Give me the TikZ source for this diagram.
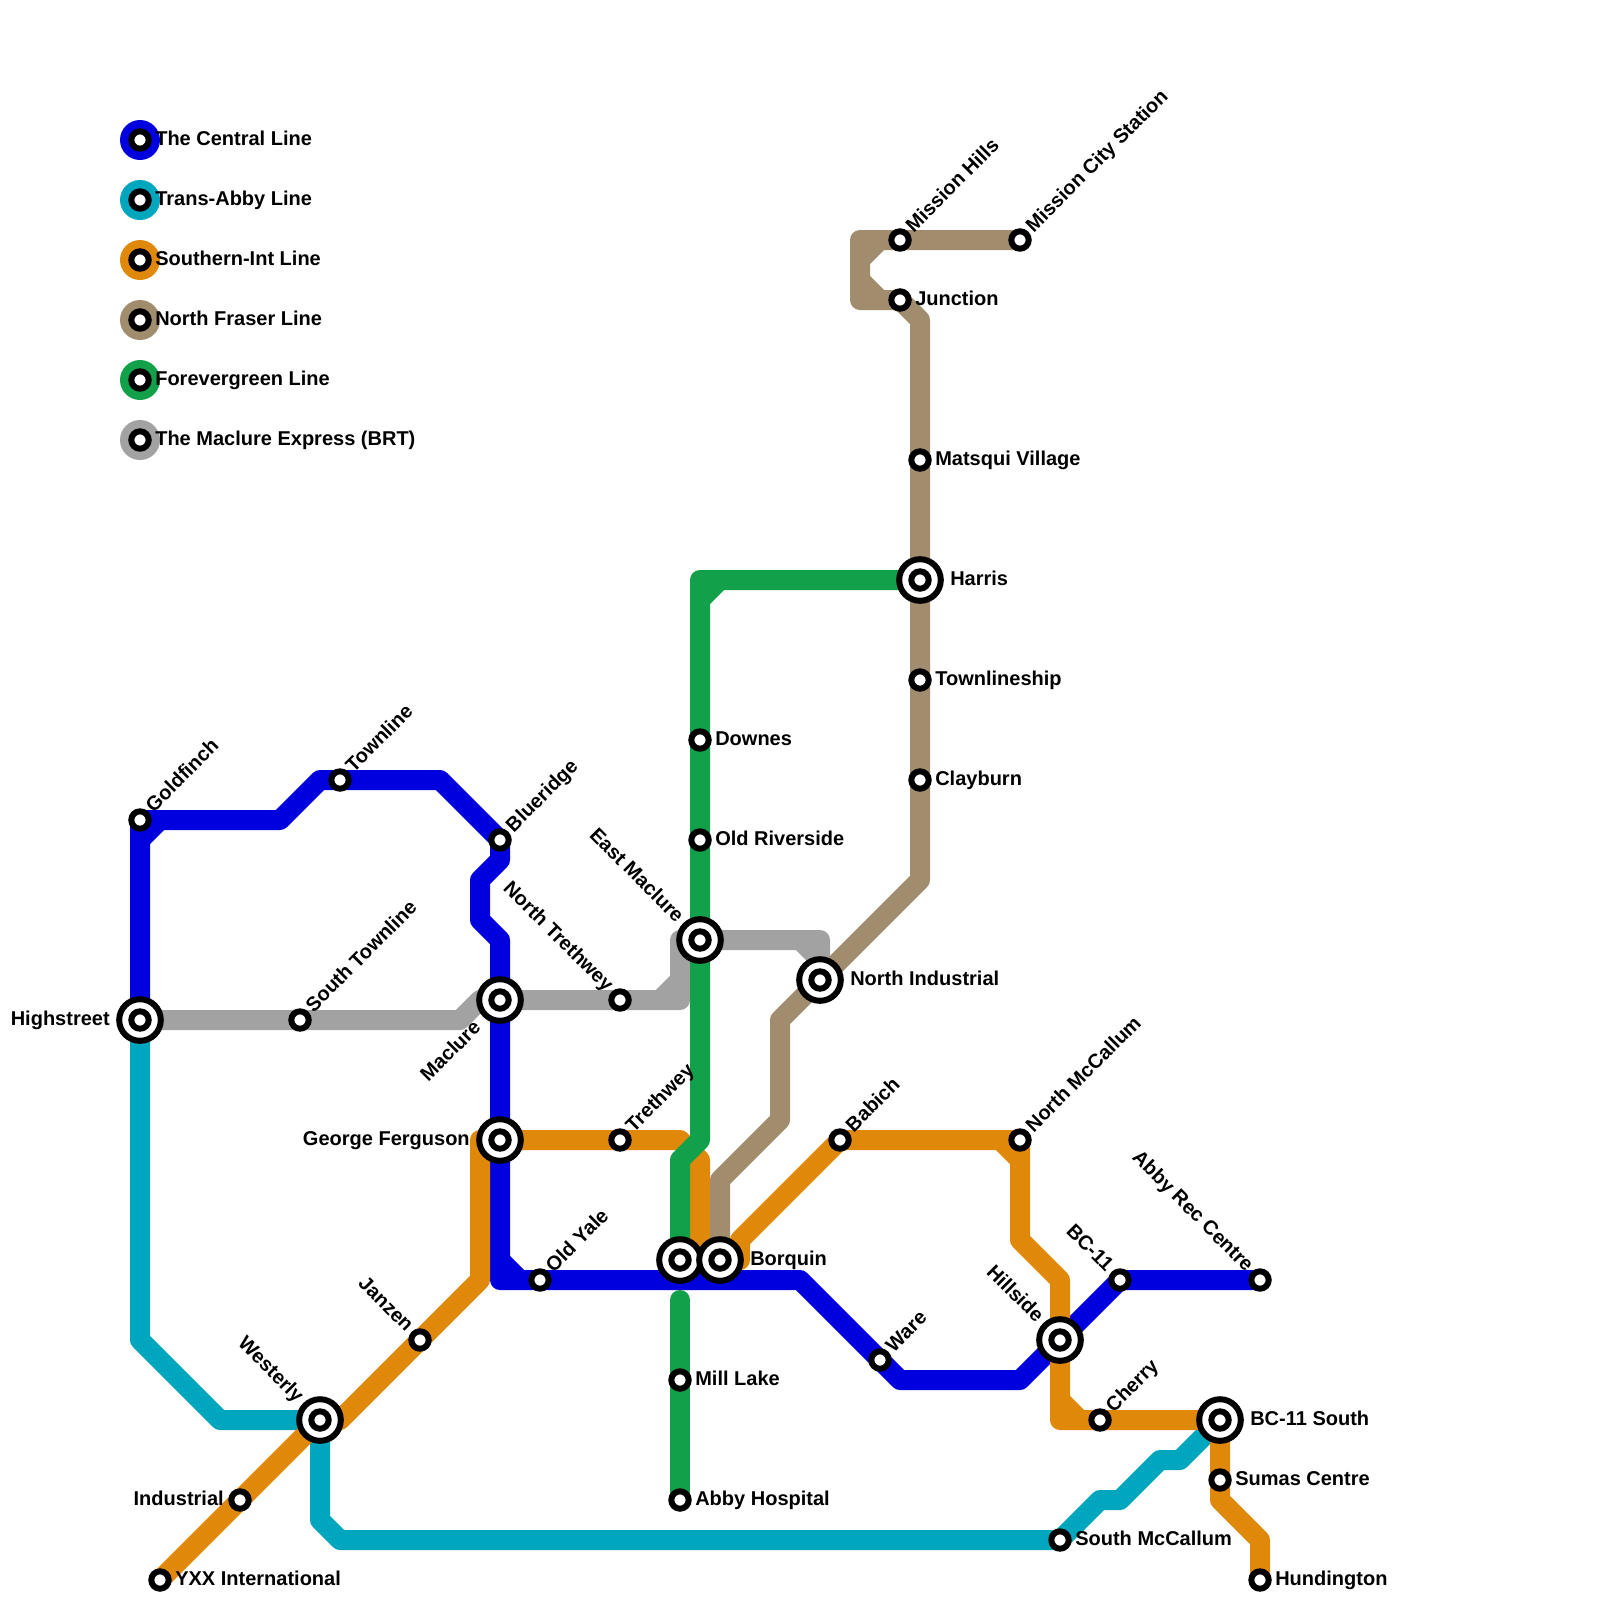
\documentclass[tikz,border=0pt]{standalone}
\usepackage{fontspec}
\setmainfont{Liberation Sans}
\definecolor{CentralBlue}{HTML}{0000DE}
\definecolor{AbbyTeal}{HTML}{00A5BE}
\definecolor{SouthernOrange}{HTML}{E0880A}
\definecolor{FraserBrown}{HTML}{A18C6E}
\definecolor{EvergreenGreen}{HTML}{12A04A}
\definecolor{MaclureGrey}{HTML}{A2A2A2}
\pgfdeclarelayer{lines}
\pgfsetlayers{lines,main}
\tikzset{
  metro/.style={line width=0.5cm,line join=round,line cap=round},
  stopdot/.style={circle,draw=black,fill=white,line width=0.15cm,minimum size=0.435cm,inner sep=0pt,outer sep=0pt},
  hubdot/.style={circle,draw=black,fill=white,line width=0.15cm,minimum size=1.04cm,inner sep=0pt,outer sep=0pt,
    path picture={\draw[black,line width=0.15cm] (path picture bounding box.center) circle (0.2175cm);}},
  keydisc/.style={circle,fill=#1,minimum size=1cm,inner sep=0pt,outer sep=0pt},
  stopname/.style={inner sep=0pt,font=\bfseries\fontsize{14.23}{16}\selectfont},
  nameE/.style={stopname,shift={(0.375cm,-0.14cm)},anchor=base west},
  nameW/.style={stopname,shift={(-0.4cm,-0.14cm)},anchor=base east},
  nameNE/.style={stopname,shift={(0.34cm,0.17cm)},rotate=45,anchor=base west},
  nameNW/.style={stopname,shift={(-0.36cm,0.18cm)},rotate=-45,anchor=base east},
  hubE/.style={stopname,shift={(0.75cm,-0.14cm)},anchor=base west},
  hubW/.style={stopname,shift={(-0.75cm,-0.14cm)},anchor=base east},
  hubNW/.style={stopname,shift={(-0.6cm,0.41cm)},rotate=-45,anchor=base east},
  hubSW/.style={stopname,shift={(-0.45cm,-0.72cm)},rotate=45,anchor=base east},
}
\begin{document}
\begin{tikzpicture}[x=0.5cm,y=-0.5cm]
\path[use as bounding box] (0,0) rectangle (80,80);
% key
\node[keydisc=CentralBlue] (keyCentral) at (7,7) {};
\node[keydisc=AbbyTeal] (keyAbby) at (7,10) {};
\node[keydisc=SouthernOrange] (keySouthern) at (7,13) {};
\node[keydisc=FraserBrown] (keyFraser) at (7,16) {};
\node[keydisc=EvergreenGreen] (keyGreen) at (7,19) {};
\node[keydisc=MaclureGrey] (keyGrey) at (7,22) {};
\node[stopdot] (dotCentral) at (keyCentral) {};
\node[stopdot] (dotAbby) at (keyAbby) {};
\node[stopdot] (dotSouthern) at (keySouthern) {};
\node[stopdot] (dotFraser) at (keyFraser) {};
\node[stopdot] (dotGreen) at (keyGreen) {};
\node[stopdot] (dotGrey) at (keyGrey) {};
\node[nameE] (txtCentral) at (keyCentral) {The Central Line};
\node[nameE] (txtAbby) at (keyAbby) {Trans-Abby Line};
\node[nameE] (txtSouthern) at (keySouthern) {Southern-Int Line};
\node[nameE] (txtFraser) at (keyFraser) {North Fraser Line};
\node[nameE] (txtGreen) at (keyGreen) {Forevergreen Line};
\node[nameE] (txtGrey) at (keyGrey) {The Maclure Express (BRT)};
% stops
\node[stopdot] (Goldfinch) at (7,41) {};
\node[stopdot] (Townline) at (17,39) {};
\node[stopdot] (Blueridge) at (25,42) {};
\node[stopdot] (SouthTownline) at (15,51) {};
\node[stopdot] (NorthTrethwey) at (31,50) {};
\node[stopdot] (Trethwey) at (31,57) {};
\node[stopdot] (OldYale) at (27,64) {};
\node[stopdot] (Janzen) at (21,67) {};
\node[stopdot] (Industrial) at (12,75) {};
\node[stopdot] (YXX) at (8,79) {};
\node[stopdot] (Downes) at (35,37) {};
\node[stopdot] (OldRiverside) at (35,42) {};
\node[stopdot] (MillLake) at (34,69) {};
\node[stopdot] (AbbyHospital) at (34,75) {};
\node[stopdot] (MissionHills) at (45,12) {};
\node[stopdot] (MissionCity) at (51,12) {};
\node[stopdot] (Junction) at (45,15) {};
\node[stopdot] (Matsqui) at (46,23) {};
\node[stopdot] (Townlineship) at (46,34) {};
\node[stopdot] (Clayburn) at (46,39) {};
\node[stopdot] (Babich) at (42,57) {};
\node[stopdot] (NorthMcCallum) at (51,57) {};
\node[stopdot] (Ware) at (44,68) {};
\node[stopdot] (BCEleven) at (56,64) {};
\node[stopdot] (AbbyRec) at (63,64) {};
\node[stopdot] (Cherry) at (55,71) {};
\node[stopdot] (Sumas) at (61,74) {};
\node[stopdot] (Hundington) at (63,79) {};
\node[stopdot] (SouthMcCallum) at (53,77) {};
% interchanges
\node[hubdot] (Highstreet) at (7,51) {};
\node[hubdot] (Maclure) at (25,50) {};
\node[hubdot] (GeorgeFerguson) at (25,57) {};
\node[hubdot] (Westerly) at (16,71) {};
\node[hubdot] (EastMaclure) at (35,47) {};
\node[hubdot] (NorthIndustrial) at (41,49) {};
\node[hubdot] (Harris) at (46,29) {};
\node[hubdot] (BorquinWest) at (34,63) {};
\node[hubdot] (Borquin) at (36,63) {};
\node[hubdot] (Hillside) at (53,67) {};
\node[hubdot] (BCSouth) at (61,71) {};
% names
\node[nameNE] (txtGoldfinch) at (Goldfinch) {Goldfinch};
\node[nameNE] (txtTownline) at (Townline) {Townline};
\node[nameNE] (txtBlueridge) at (Blueridge) {Blueridge};
\node[nameNE] (txtSouthTownline) at (SouthTownline) {South Townline};
\node[nameNE] (txtTrethwey) at (Trethwey) {Trethwey};
\node[nameNE] (txtOldYale) at (OldYale) {Old Yale};
\node[nameNE] (txtMissionHills) at (MissionHills) {Mission Hills};
\node[nameNE] (txtMissionCity) at (MissionCity) {Mission City Station};
\node[nameNE] (txtBabich) at (Babich) {Babich};
\node[nameNE] (txtNorthMcCallum) at (NorthMcCallum) {North McCallum};
\node[nameNE] (txtWare) at (Ware) {Ware};
\node[nameNE] (txtCherry) at (Cherry) {Cherry};
\node[nameNW] (txtNorthTrethwey) at (NorthTrethwey) {North Trethwey};
\node[nameNW] (txtJanzen) at (Janzen) {Janzen};
\node[nameNW] (txtBCEleven) at (BCEleven) {BC-11};
\node[nameNW] (txtAbbyRec) at (AbbyRec) {Abby Rec Centre};
\node[nameW] (txtIndustrial) at (Industrial) {Industrial};
\node[nameE] (txtYXX) at (YXX) {YXX International};
\node[nameE] (txtDownes) at (Downes) {Downes};
\node[nameE] (txtOldRiverside) at (OldRiverside) {Old Riverside};
\node[nameE] (txtMillLake) at (MillLake) {Mill Lake};
\node[nameE] (txtAbbyHospital) at (AbbyHospital) {Abby Hospital};
\node[nameE] (txtJunction) at (Junction) {Junction};
\node[nameE] (txtMatsqui) at (Matsqui) {Matsqui Village};
\node[nameE] (txtTownlineship) at (Townlineship) {Townlineship};
\node[nameE] (txtClayburn) at (Clayburn) {Clayburn};
\node[nameE] (txtSumas) at (Sumas) {Sumas Centre};
\node[nameE] (txtHundington) at (Hundington) {Hundington};
\node[nameE] (txtSouthMcCallum) at (SouthMcCallum) {South McCallum};
\node[hubW] (txtHighstreet) at (Highstreet) {Highstreet};
\node[hubW] (txtGeorgeFerguson) at (GeorgeFerguson) {George Ferguson};
\node[hubSW] (txtMaclure) at (Maclure) {Maclure};
\node[hubNW] (txtWesterly) at (Westerly) {Westerly};
\node[hubNW] (txtEastMaclure) at (EastMaclure) {East Maclure};
\node[hubNW] (txtHillside) at (Hillside) {Hillside};
\node[hubE] (txtNorthIndustrial) at (NorthIndustrial) {North Industrial};
\node[hubE] (txtHarris) at (Harris) {Harris};
\node[hubE] (txtBorquin) at (Borquin) {Borquin};
\node[hubE] (txtBCSouth) at (BCSouth) {BC-11 South};
% lines, under the stops
\begin{pgfonlayer}{lines}
\draw[metro,MaclureGrey] (Highstreet.center) -- (SouthTownline.center) -- (23,51) -- (24,50) -- (Maclure.center) -- (NorthTrethwey.center) -- (34,50) -- (34,47) -- (EastMaclure.center) -- (41,47) -- (NorthIndustrial.center);
\draw[metro,MaclureGrey] (33,50) -- (34,49);
\draw[metro,MaclureGrey] (40,47) -- (41,48);
\draw[metro,AbbyTeal] (Highstreet.center) -- (7,67) -- (11,71) -- (Westerly.center) -- (16,76) -- (17,77) -- (SouthMcCallum.center) -- (55,75) -- (56,75) -- (58,73) -- (59,73) -- (BCSouth.center);
\draw[metro,CentralBlue] (Highstreet.center) -- (Goldfinch.center) -- (14,41) -- (16,39) -- (Townline.center) -- (22,39) -- (Blueridge.center) -- (25,43) -- (24,44) -- (24,46) -- (25,47) -- (Maclure.center) -- (GeorgeFerguson.center) -- (25,64) -- (OldYale.center) -- (40,64) -- (Ware.center) -- (45,69) -- (51,69) -- (Hillside.center) -- (BCEleven.center) -- (AbbyRec.center);
\draw[metro,CentralBlue] (7,42) -- (8,41);
\draw[metro,CentralBlue] (25,63) -- (26,64);
\draw[metro,SouthernOrange] (YXX.center) -- (Industrial.center) -- (Westerly.center) -- (17,71) -- (Janzen.center) -- (24,64) -- (24,57) -- (GeorgeFerguson.center) -- (Trethwey.center) -- (34,57) -- (35,58) -- (35,63) -- (Borquin.center) -- (37,63) -- (37,62) -- (Babich.center) -- (NorthMcCallum.center) -- (51,62) -- (53,64) -- (Hillside.center) -- (53,71) -- (Cherry.center) -- (BCSouth.center) -- (Sumas.center) -- (61,75) -- (63,77) -- (Hundington.center);
\draw[metro,SouthernOrange] (50,57) -- (51,58);
\draw[metro,SouthernOrange] (53,70) -- (54,71);
\draw[metro,FraserBrown] (MissionCity.center) -- (MissionHills.center) -- (43,12) -- (43,15) -- (Junction.center) -- (46,16) -- (Matsqui.center) -- (Harris.center) -- (Townlineship.center) -- (Clayburn.center) -- (46,44) -- (NorthIndustrial.center) -- (39,51) -- (39,56) -- (36,59) -- (Borquin.center);
\draw[metro,FraserBrown] (44,12) -- (43,13);
\draw[metro,FraserBrown] (43,14) -- (44,15);
\draw[metro,EvergreenGreen] (Harris.center) -- (35,29) -- (Downes.center) -- (OldRiverside.center) -- (EastMaclure.center) -- (35,57) -- (34,58) -- (BorquinWest.center);
\draw[metro,EvergreenGreen] (35,30) -- (36,29);
\draw[metro,EvergreenGreen] (34,65) -- (MillLake.center) -- (AbbyHospital.center);
\end{pgfonlayer}
\end{tikzpicture}
\end{document}
